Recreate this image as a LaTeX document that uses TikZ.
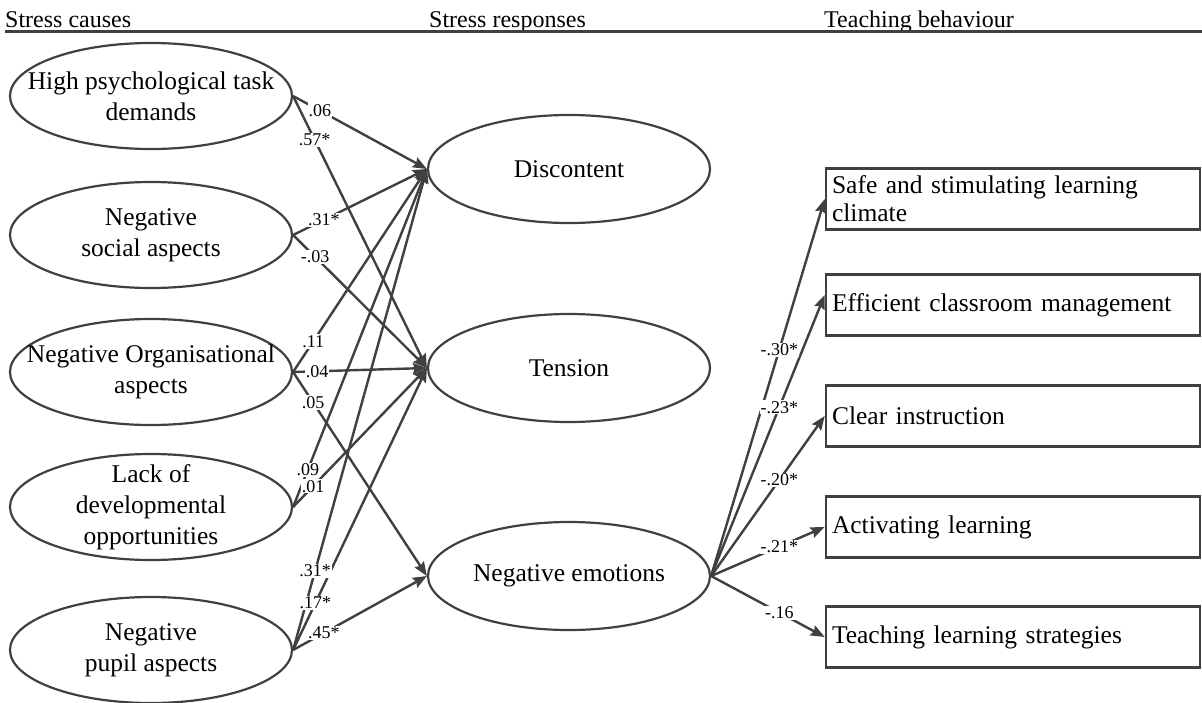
\documentclass[tikz,border=0pt]{standalone}
\usepackage{fontspec}
\setmainfont{Liberation Serif}
\usetikzlibrary{shapes.geometric,arrows.meta}
\definecolor{ink}{HTML}{404040}
\begin{document}
\begin{tikzpicture}[x=1pt,y=-1pt,
  cause/.style={ellipse, draw=ink, line width=2.2pt, minimum width=282pt, minimum height=106pt, inner sep=0pt},
  resp/.style={ellipse, draw=ink, line width=2.2pt, minimum width=282pt, minimum height=108pt, inner sep=0pt},
  inside/.style={align=center, inner sep=0pt, font=\fontsize{25.5}{31}\selectfont},
  behav/.style={rectangle, draw=ink, line width=2.6pt, minimum height=61pt, text width=362pt,
    inner sep=6pt, align=left, font=\fontsize{25.5}{28}\selectfont},
  head/.style={anchor=base west, inner sep=0pt, font=\fontsize{24}{28}\selectfont},
  effect/.style={draw=ink, line width=2.4pt, -{Stealth[length=14pt,width=11pt,inset=2pt]}},
  coef/.style={fill=white, inner sep=1pt, font=\fontsize{18}{20}\selectfont},
]
\useasboundingbox (0,0) rectangle (1202,702);

% column headings and rule
\node[head] (h1) at (5,27) {Stress causes};
\node[head] (h2) at (429,27) {Stress responses};
\node[head] (h3) at (824,27) {Teaching behaviour};
\draw[ink, line width=3pt] (5,31) -- (1202,31);

% stress causes: fixed-size ellipses with their captions on top
\node[cause] (c1) at (151,96)  {};
\node[cause] (c2) at (151,235) {};
\node[cause] (c3) at (151,372) {};
\node[cause] (c4) at (151,507) {};
\node[cause] (c5) at (151,650) {};
\node[inside] (c1t) at (c1) {High psychological task\\demands};
\node[inside] (c2t) at (c2) {Negative\\social aspects};
\node[inside] (c3t) at (c3) {Negative Organisational\\aspects};
\node[inside] (c4t) at (c4) {Lack of\\developmental\\opportunities};
\node[inside] (c5t) at (c5) {Negative\\pupil aspects};

% stress responses
\node[resp] (r1) at (569,169) {};
\node[resp] (r2) at (569,368) {};
\node[resp] (r3) at (569,576) {};
\node[inside] (r1t) at (r1) {Discontent};
\node[inside] (r2t) at (r2) {Tension};
\node[inside] (r3t) at (r3) {Negative emotions};

% teaching behaviour
\node[behav] (b1) at (1013,199) {Safe and stimulating learning\\climate};
\node[behav] (b2) at (1013,305) {Efficient classroom management};
\node[behav] (b3) at (1013,416) {Clear instruction};
\node[behav] (b4) at (1013,527) {Activating learning};
\node[behav] (b5) at (1013,637) {Teaching learning strategies};

% paths
\draw[effect] (c1.east) -- (r1.west);
\draw[effect] (c1.east) -- (r2.west);
\draw[effect] (c2.east) -- (r1.west);
\draw[effect] (c2.east) -- (r2.west);
\draw[effect] (c3.east) -- (r1.west);
\draw[effect] (c3.east) -- (r2.west);
\draw[effect] (c3.east) -- (r3.west);
\draw[effect] (c4.east) -- (r1.west);
\draw[effect] (c4.east) -- (r2.west);
\draw[effect] (c5.east) -- (r1.west);
\draw[effect] (c5.east) -- (r2.west);
\draw[effect] (c5.east) -- (r3.west);
\draw[effect] (r3.east) -- (b1.west);
\draw[effect] (r3.east) -- ([yshift=10pt]b2.west);
\draw[effect] (r3.east) -- (b3.west);
\draw[effect] (r3.east) -- (b4.west);
\draw[effect] (r3.east) -- (b5.west);

% path coefficients
\path (c1.east) -- (r1.west) node[coef,pos=0.2]{.06};
\path (c1.east) -- (r2.west) node[coef,pos=0.16]{.57*};
\path (c2.east) -- (r1.west) node[coef,pos=0.23]{.31*};
\path (c2.east) -- (r2.west) node[coef,pos=0.165]{-.03};
\path (c3.east) -- (r1.west) node[coef,pos=0.15]{.11};
\path (c3.east) -- (r2.west) node[coef,pos=0.18]{.04};
\path (c3.east) -- (r3.west) node[coef,pos=0.15]{.05};
\path (c4.east) -- (r1.west) node[coef,pos=0.11]{.09};
\path (c4.east) -- (r2.west) node[coef,pos=0.15]{.01};
\path (c5.east) -- (r1.west) node[coef,pos=0.165]{.31*};
\path (c5.east) -- (r2.west) node[coef,pos=0.167]{.17*};
\path (c5.east) -- (r3.west) node[coef,pos=0.23]{.45*};
\path (r3.east) -- (b1.west) node[coef,pos=0.6]{-.30*};
\path (r3.east) -- ([yshift=10pt]b2.west) node[coef,pos=0.6]{-.23*};
\path (r3.east) -- (b3.west) node[coef,pos=0.6]{-.20*};
\path (r3.east) -- (b4.west) node[coef,pos=0.6]{-.21*};
\path (r3.east) -- (b5.west) node[coef,pos=0.6]{-.16};
\end{tikzpicture}
\end{document}
